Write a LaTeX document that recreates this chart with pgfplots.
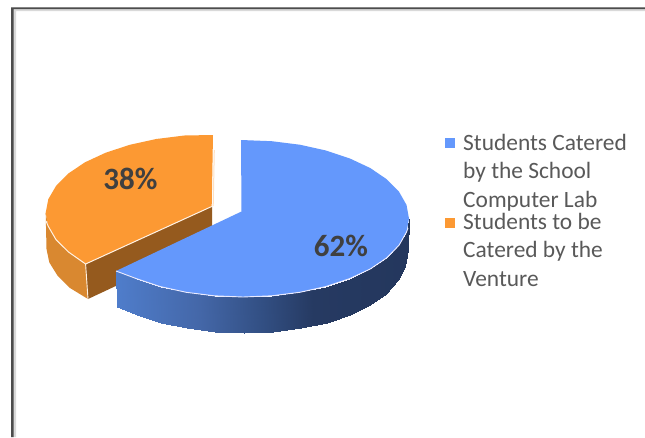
\documentclass[border=0pt]{standalone}
\usepackage{fontspec}
\setmainfont{Carlito}
\usepackage{pgfplots}
\pgfplotsset{compat=1.18}
\definecolor{bluetop}{HTML}{6498FC}
\definecolor{orangetop}{HTML}{FC9933}
\definecolor{orangecut}{HTML}{955A1E}
\definecolor{orangeside}{HTML}{D98830}
\definecolor{legtext}{HTML}{595959}
\definecolor{lbl}{HTML}{404040}
\begin{document}
\begin{tikzpicture}
\begin{axis}[
  scale only axis, width=645pt, height=437pt,
  xmin=0, xmax=645, ymin=0, ymax=437, y dir=reverse,
  hide axis, clip=true, no markers, sharp plot,
  colormap={bs}{rgb255(0)=(79,125,203) rgb255(84)=(68,103,168) rgb255(146)=(50,79,131) rgb255(197)=(38,58,98) rgb255(293)=(36,55,93)},
  point meta min=116, point meta max=409]
% page and frame
\addplot[fill=white, draw=none] coordinates {(0,0) (645,0) (645,437) (0,437)} --cycle;
\addplot[fill=black!15, draw=none] coordinates {(11,7.5) (645,7.5) (645,11) (16,11) (16,437) (11,437)} --cycle;
\addplot[fill=black!70, draw=none] coordinates {(11,7.3) (645,7.3) (645,9.2) (13.5,9.2) (13.5,437) (11,437)} --cycle;
% orange cut face
\addplot[fill=orangecut, draw=none] coordinates {(212,206.5) (85.6,264) (88,299) (212,241)} --cycle;
% orange outer side
\addplot[fill=orangeside, draw=none] coordinates {
 (45.7,212.8) (48.3,226.4) (56,239.6) (68.5,252) (85.6,264)
 (88,299) (70,288) (57.5,275.6) (49.3,262.4) (46.5,249)} --cycle;
\addplot[color=white!90!orange, line width=0.9pt] coordinates {(85.6,264) (88,299)};
% orange top
\addplot[fill=orangetop, draw=none] coordinates {
 (213,135) (184.3,135.5) (156.2,139) (129.8,144.8) (105.7,152.7) (85,162.3)
 (68.3,173.5) (56,186) (48.3,199.2) (45.7,212.8) (48.3,226.4) (56,239.6)
 (68.5,252) (85.6,264) (211.7,206.5)} --cycle;
\addplot[color=white!90!orange, line width=1pt] coordinates {
 (46,221) (48.3,226.4) (56,239.6) (68.5,252) (85.6,264) (211.7,206.5)};
\addplot[color=orangetop!30!white, line width=1pt] coordinates {(214.3,150) (213.2,206)};
% blue outer side, one quad per arc segment, colour runs with x
\addplot[patch, patch type=rectangle, shader=interp, point meta=x] coordinates {
 (116,271) (136.3,278.6) (137.3,314.6) (117,307)
 (136.3,278.6) (160,286.5) (161,322.5) (137.3,314.6)
 (160,286.5) (186.2,292.3) (187.2,328.3) (161,322.5)
 (186.2,292.3) (214.2,295.8) (215.2,331.8) (187.2,328.3)
 (214.2,295.8) (243,297) (244,333) (215.2,331.8)
 (243,297) (271.8,295.8) (272.8,331.8) (244,333)
 (271.8,295.8) (299.8,292.3) (300.8,328.3) (272.8,331.8)
 (299.8,292.3) (326,286.5) (327,322.5) (300.8,328.3)
 (326,286.5) (349.7,278.6) (350.2,314.6) (327,322.5)
 (349.7,278.6) (370.2,269) (369.7,305) (350.2,314.6)
 (370.2,269) (386.8,257.8) (386,293.8) (369.7,305)
 (386.8,257.8) (399,245.3) (398,280) (386,293.8)
 (399,245.3) (406.5,232.1) (405,266) (398,280)
 (406.5,232.1) (409,218.5) (408,250) (405,266)
};
% blue top
\addplot[fill=bluetop, draw=none] coordinates {
 (241,140) (271.8,141.2) (299.8,144.7) (326,150.5) (349.7,158.4) (370.2,168)
 (386.8,179.3) (399,191.7) (406.5,204.9) (409,218.5) (406.5,232.1) (399,245.3)
 (386.8,257.8) (370.2,269) (349.7,278.6) (326,286.5) (299.8,292.3) (271.8,295.8)
 (243,297) (214.2,295.8) (186.2,292.3) (160,286.5) (136.3,278.6) (116,271)
 (241.5,211.5)} --cycle;
\addplot[color=white!92!blue, line width=0.9pt] coordinates {
 (408,228) (406.5,232.1) (399,245.3) (386.8,257.8) (370.2,269) (349.7,278.6)
 (326,286.5) (299.8,292.3) (271.8,295.8) (243,297) (214.2,295.8) (186.2,292.3)
 (160,286.5) (136.3,278.6) (116,271)};
% legend keys
\addplot[fill=bluetop, draw=none] coordinates {(445,138) (455,138) (455,148) (445,148)} --cycle;
\addplot[fill=orangetop, draw=none] coordinates {(445,218) (455,218) (455,227.5) (445,227.5)} --cycle;
% labels
\node[anchor=base, inner sep=0pt, text=lbl, font=\fontsize{31}{31}\selectfont\bfseries] at (axis cs:130.5,189.2) {38\%};
\node[anchor=base, inner sep=0pt, text=lbl, font=\fontsize{31}{31}\selectfont\bfseries] at (axis cs:341,256) {62\%};
% legend text
\node[anchor=base west, inner sep=0pt, text=legtext, font=\fontsize{23.4}{23.4}\selectfont] at (axis cs:463,150) {Students Catered};
\node[anchor=base west, inner sep=0pt, text=legtext, font=\fontsize{23.4}{23.4}\selectfont] at (axis cs:463,178) {by the School};
\node[anchor=base west, inner sep=0pt, text=legtext, font=\fontsize{23.4}{23.4}\selectfont] at (axis cs:463,207.2) {Computer Lab};
\node[anchor=base west, inner sep=0pt, text=legtext, font=\fontsize{23.4}{23.4}\selectfont] at (axis cs:463,229) {Students to be};
\node[anchor=base west, inner sep=0pt, text=legtext, font=\fontsize{23.4}{23.4}\selectfont] at (axis cs:463,257) {Catered by the};
\node[anchor=base west, inner sep=0pt, text=legtext, font=\fontsize{23.4}{23.4}\selectfont] at (axis cs:463,286.5) {Venture};
\end{axis}
\end{tikzpicture}
\end{document}
